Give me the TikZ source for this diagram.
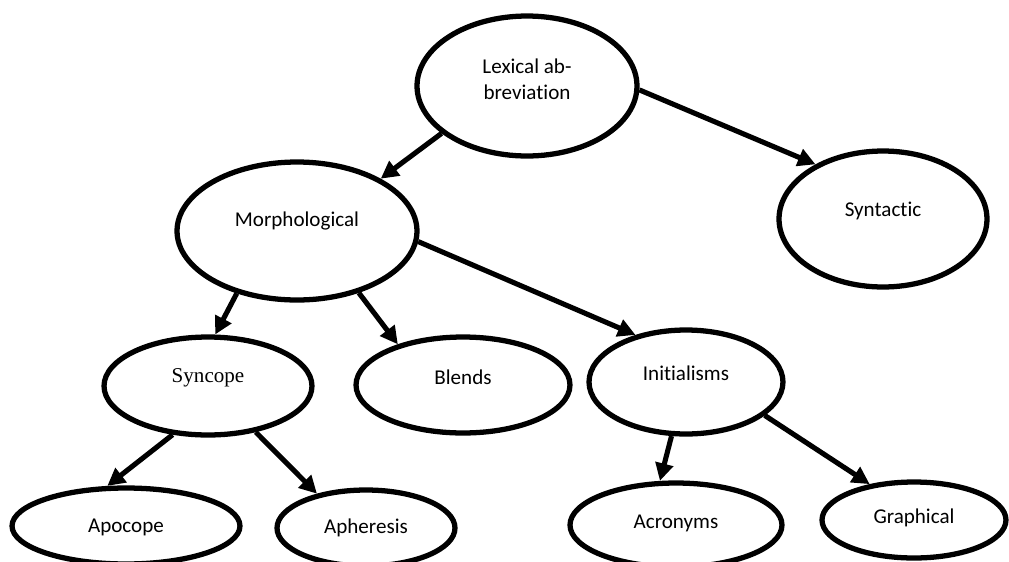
\documentclass[tikz,border=0pt]{standalone}
\usepackage{fontspec}
\setmainfont{Carlito}[Ligatures=NoCommon]
\newfontfamily\timesfont{Liberation Serif}
\usetikzlibrary{shapes.geometric,arrows.meta}
\tikzset{
  oval/.style={ellipse,draw,line width=3pt,inner sep=0pt},
  arr/.style={line width=2.9pt,-{Triangle[length=10pt,width=10pt]}},
  txt/.style={font=\fontsize{12}{14.7}\selectfont,align=center,inner sep=0pt}
}
\begin{document}
\begin{tikzpicture}[x=0.02cm,y=-0.02cm]
\useasboundingbox (0,0) rectangle (1009,562);
\node[oval,minimum width=4.4cm,minimum height=2.8cm] (lex) at (527,86) {};
\node[oval,minimum width=4.8cm,minimum height=2.76cm] (morph) at (297,231) {};
\node[oval,minimum width=4.16cm,minimum height=2.72cm] (syn) at (883,219) {};
\node[oval,minimum width=3.88cm,minimum height=2.08cm] (init) at (686,382) {};
\node[oval,minimum width=4.16cm,minimum height=1.96cm] (sync) at (208,386) {};
\node[oval,minimum width=4.28cm,minimum height=1.92cm] (blend) at (463,385) {};
\node[oval,minimum width=4.56cm,minimum height=1.52cm] (apoc) at (126,526) {};
\node[oval,minimum width=3.56cm,minimum height=1.52cm] (aph) at (366,528) {};
\node[oval,minimum width=4.24cm,minimum height=1.68cm] (acro) at (676,525) {};
\node[oval,minimum width=3.68cm,minimum height=1.52cm] (graph) at (914,520) {};
\node[txt] (lexT) at ([yshift=0.14cm]lex.center) {Lexical ab-\\breviation};
\node[txt] (morphT) at ([yshift=0.2cm]morph.center) {Morphological};
\node[txt] (synT) at ([yshift=0.16cm]syn.center) {Syntactic};
\node[txt] (initT) at ([yshift=0.18cm]init.center) {Initialisms};
\node[txt,font=\fontsize{12}{14.7}\selectfont\timesfont] (syncT) at ([yshift=0.16cm]sync.center) {Syncope};
\node[txt] (blendT) at ([yshift=0.16cm]blend.center) {Blends};
\node[txt] (apocT) at ([yshift=-0.02cm]apoc.center) {Apocope};
\node[txt] (aphT) at ([yshift=0cm]aph.center) {Apheresis};
\node[txt] (acroT) at ([yshift=0.04cm]acro.center) {Acronyms};
\node[txt] (graphT) at ([yshift=0.04cm]graph.center) {Graphical};
\draw[arr] (lex.209) -- (morph.32);
\draw[arr] (lex.358) -- (syn.141);
\draw[arr] (morph.226) -- (sync.82);
\draw[arr] (morph.315) -- (blend.148);
\draw[arr] (morph.355) -- (init.137);
\draw[arr] (sync.234) -- (apoc.115);
\draw[arr] (sync.316) -- (aph.145);
\draw[arr] (init.255) -- (acro.110);
\draw[arr] (init.337) -- (graph.141);
\end{tikzpicture}
\end{document}
